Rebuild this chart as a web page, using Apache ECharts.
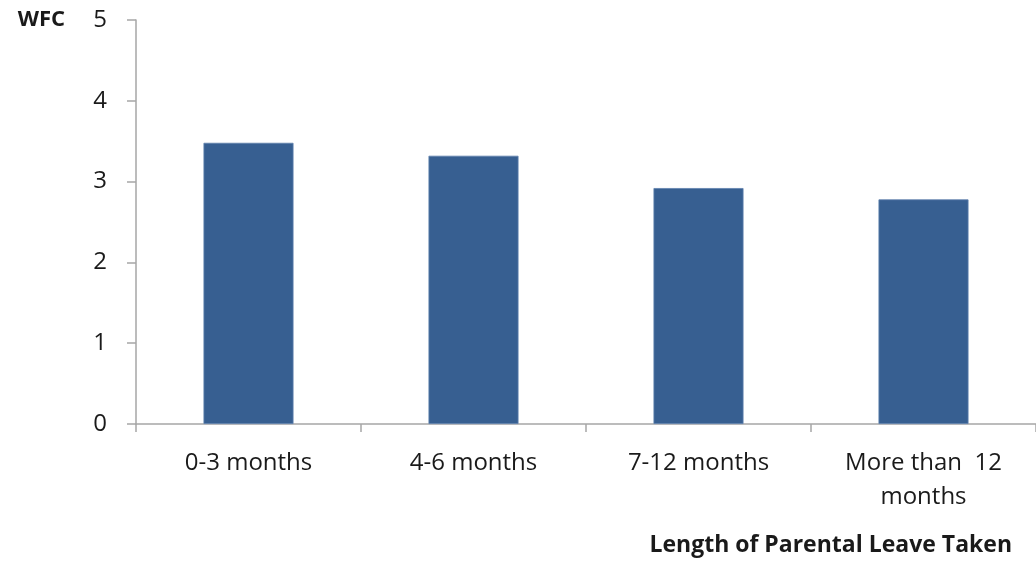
<!DOCTYPE html>
<html>
<head>
<meta charset="utf-8">
<script src="https://cdn.jsdelivr.net/npm/echarts@6/dist/echarts.min.js"></script>
<style>
  html, body { margin: 0; padding: 0; background: #fff; }
  #chart { width: 1036px; height: 566px; }
</style>
</head>
<body>
<div id="chart"></div>
<script>
// Work-family conflict by length of parental leave taken
const categories = ['0-3 months', '4-6 months', '7-12 months', 'More than  12\nmonths'];
const wfcValues = [3.48, 3.32, 2.92, 2.78];
const yTicks = [0, 1, 2, 3, 4, 5];

const font = '"Open Sans", Lato, sans-serif';
const axisGray = '#a6a6a6';

const chart = echarts.init(document.getElementById('chart'), null, { renderer: 'canvas' });
chart.setOption({
  animation: false,
  backgroundColor: '#ffffff',
  grid: { left: 136, top: 20, right: -4, bottom: 142, containLabel: false },
  xAxis: {
    type: 'category',
    data: categories,
    name: 'Length of Parental Leave Taken',
    nameLocation: 'end',
    nameGap: -24,
    nameTextStyle: {
      fontFamily: font, fontSize: 23, fontWeight: 'bold', color: '#1a1a1a',
      align: 'right', verticalAlign: 'top', padding: [110, 0, 0, 0]
    },
    axisLine: { lineStyle: { color: axisGray, width: 1.5 } },
    axisTick: { show: true, alignWithLabel: false, length: 8, lineStyle: { color: axisGray, width: 1.5 } },
    axisLabel: {
      fontFamily: font, fontSize: 24, color: '#1a1a1a', margin: 22, lineHeight: 34,
      interval: 0
    },
    splitLine: { show: false }
  },
  yAxis: {
    type: 'value',
    min: yTicks[0],
    max: yTicks[yTicks.length - 1],
    interval: 1,
    name: 'WFC',
    nameLocation: 'end',
    nameGap: 0,
    nameTextStyle: {
      fontFamily: font, fontSize: 22, fontWeight: 'bold', color: '#1a1a1a',
      align: 'right', verticalAlign: 'middle', padding: [0, 71, 0, 0]
    },
    axisLine: { show: true, lineStyle: { color: axisGray, width: 1.5 } },
    axisTick: { show: true, inside: false, length: 9, lineStyle: { color: axisGray, width: 1.5 } },
    axisLabel: { fontFamily: font, fontSize: 24, color: '#1a1a1a', margin: 29 },
    splitLine: { show: false }
  },
  series: [{
    type: 'bar',
    data: wfcValues,
    barWidth: '40%',
    itemStyle: { color: '#375f91', borderColor: '#5e80ad', borderWidth: 0.8 }
  }]
});
</script>
</body>
</html>
